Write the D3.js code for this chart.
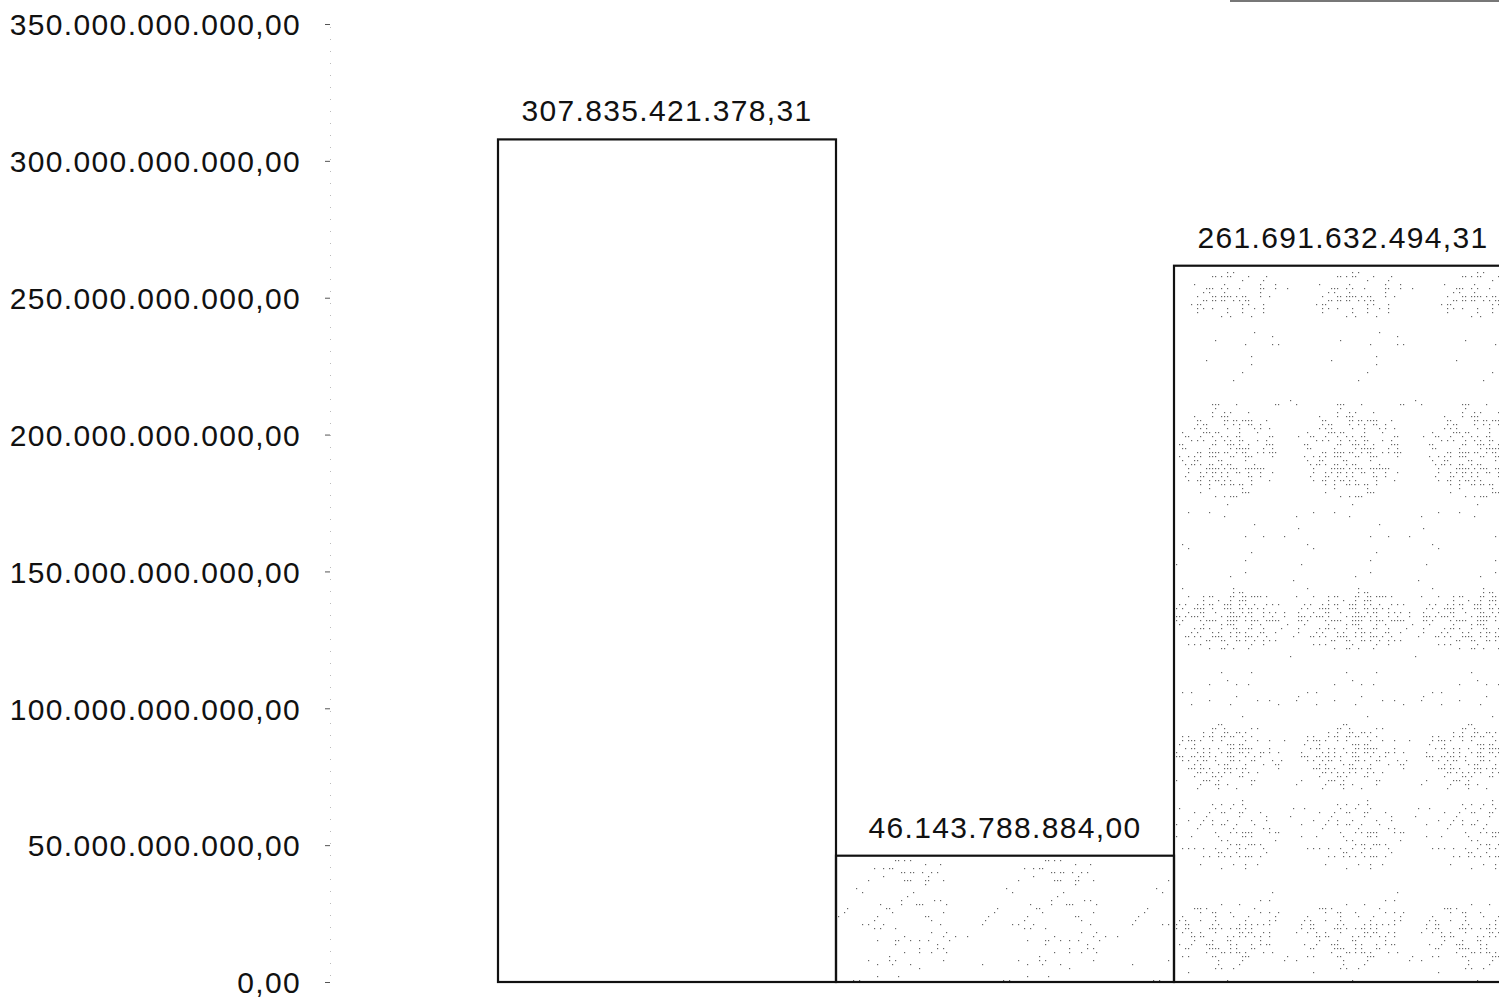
<!DOCTYPE html>
<html>
<head>
<meta charset="utf-8">
<script src="https://cdn.jsdelivr.net/npm/d3@7"></script>
<style>
  body { margin: 0; background: #fff; }
  svg { display: block; font-family: "Liberation Sans", Arial, sans-serif; }
</style>
</head>
<body>
<svg width="1499" height="998"></svg>
<script>
// chart data
const categories = ['A', 'B', 'C'];
const values = [307835421378.31, 46143788884.00, 261691632494.31];
const patterns = [null, 'sparse', 'dense'];
const yTicks = [0, 50e9, 100e9, 150e9, 200e9, 250e9, 300e9, 350e9];

const svg = d3.select('svg');

const locale = d3.formatLocale({ decimal: ',', thousands: '.', grouping: [3], currency: ['', ''] });
const fmt = locale.format(',.2f');

const y = d3.scaleLinear()
  .domain([0, 350e9])
  .range([982, 24]);

const x = d3.scaleBand()
  .domain(categories)
  .range([498, 1512])
  .padding(0);

// halftone-ish stipple used by the scanned original
const defs = svg.append('defs');

const hash = (i, j) => {
  const s = Math.sin(i * 12.9898 + j * 78.233) * 43758.5453;
  return s - Math.floor(s);
};

const makePattern = (id, x0, tileW, cxRel, rows, bg) => {
  const p = defs.append('pattern')
    .attr('id', id)
    .attr('patternUnits', 'userSpaceOnUse')
    .attr('x', x0)
    .attr('y', 0)
    .attr('width', tileW)
    .attr('height', 998);
  const dots = [];
  for (let py = 0; py < 998; py += 4) {
    for (let px = 0; px < tileW; px += 3) {
      let dens = bg;
      rows.forEach(([cy, ry, rx, k]) => {
        const dx = (px - cxRel) / rx, dy = (py - cy) / ry;
        const r2 = dx * dx + dy * dy;
        if (r2 < 1) dens = Math.max(dens, k * (1 - r2 * 0.6));
      });
      if (hash(px + x0, py) < dens) dots.push([px, py]);
    }
  }
  p.selectAll('rect')
    .data(dots)
    .enter().append('rect')
      .attr('x', d => d[0])
      .attr('y', d => d[1])
      .attr('width', 1.2)
      .attr('height', 1.2)
      .attr('fill', '#666');
};

makePattern('sparse', 838, 150, 75, [
  [872, 16, 40, 0.22], [930, 40, 48, 0.16]
], 0.01);

makePattern('dense', 1173, 125, 55, [
  [295, 25, 50, 0.28], [355, 20, 45, 0.12], [450, 50, 52, 0.42],
  [620, 32, 62, 0.5], [690, 18, 60, 0.08], [755, 35, 55, 0.38],
  [835, 35, 52, 0.28], [935, 35, 55, 0.32]
], 0.015);

// y axis
const axis = svg.append('g')
  .attr('transform', 'translate(330,0)')
  .call(d3.axisLeft(y).tickValues(yTicks).tickFormat(fmt).tickSize(5).tickPadding(24));

axis.select('.domain')
  .attr('stroke', '#bbb')
  .attr('stroke-dasharray', '1,11');
axis.selectAll('.tick line').attr('stroke', '#555');
axis.selectAll('.tick text')
  .attr('fill', '#111')
  .style('font-size', '30px')
  .style('letter-spacing', '1.35px')
  .attr('dy', '0.36em');

// bars
svg.append('g')
  .selectAll('rect')
  .data(values)
  .enter().append('rect')
    .attr('x', (d, i) => x(categories[i]))
    .attr('y', d => y(d))
    .attr('width', x.bandwidth())
    .attr('height', d => y(0) - y(d))
    .attr('fill', (d, i) => patterns[i] ? `url(#${patterns[i]})` : '#fff')
    .attr('stroke', '#111')
    .attr('stroke-width', 2.2);

// value labels
svg.append('g')
  .selectAll('text')
  .data(values)
  .enter().append('text')
    .attr('x', (d, i) => x(categories[i]) + x.bandwidth() / 2)
    .attr('y', d => y(d) - 18)
    .attr('text-anchor', 'middle')
    .attr('fill', '#111')
    .style('font-size', '30px')
    .style('letter-spacing', '1.35px')
    .text(fmt);

// edge of legend box cut off at the top
svg.append('line')
  .attr('x1', 1230).attr('x2', 1499)
  .attr('y1', 1).attr('y2', 1)
  .attr('stroke', '#777')
  .attr('stroke-width', 2);
</script>
</body>
</html>
